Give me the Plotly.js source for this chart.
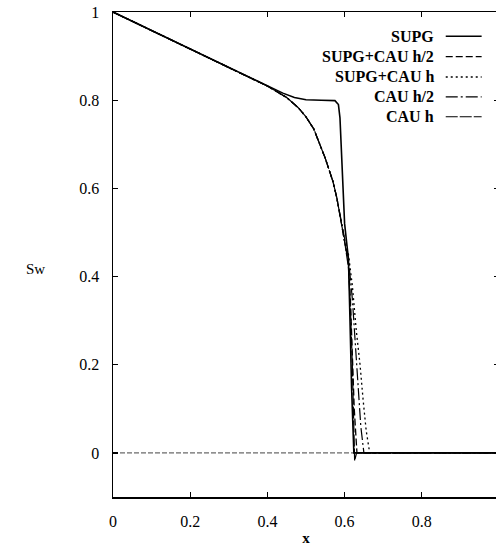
<!DOCTYPE html>
<html>
<head>
<meta charset="utf-8">
<script src="https://cdn.plot.ly/plotly-3.0.1.min.js"></script>
<style>
  html, body { margin: 0; padding: 0; overflow: hidden; background: #ffffff; }
  #chart { width: 502px; height: 546px; }
</style>
</head>
<body>
<div id="chart"></div>
<script>
// ---- data ----
var seriesNames = ["SUPG", "SUPG+CAU h/2", "SUPG+CAU h", "CAU h/2", "CAU h"];

var xSUPG = [0, 0.1, 0.2, 0.3, 0.4, 0.44, 0.47, 0.5, 0.54, 0.575, 0.584, 0.588, 0.591, 0.595, 0.6, 0.605, 0.61, 0.614, 0.618, 0.624, 0.7, 0.8, 0.9, 1.0];
var ySUPG = [1, 0.958, 0.916, 0.874, 0.832, 0.816, 0.806, 0.801, 0.800, 0.799, 0.79, 0.76, 0.70, 0.60, 0.52, 0.48, 0.44, 0.30, 0.15, 0.0, 0, 0, 0, 0];

var xSUPGCAUh2 = [0, 0.1, 0.2, 0.3, 0.4, 0.45, 0.48, 0.5, 0.52, 0.55, 0.57, 0.58, 0.59, 0.6, 0.61, 0.615, 0.62, 0.625, 0.632, 0.7, 0.8, 0.9, 1.0];
var ySUPGCAUh2 = [1, 0.958, 0.916, 0.874, 0.832, 0.806, 0.783, 0.762, 0.735, 0.668, 0.615, 0.578, 0.53, 0.48, 0.43, 0.35, 0.20, 0.10, 0.0, 0, 0, 0, 0];

var xSUPGCAUh = [0, 0.1, 0.2, 0.3, 0.4, 0.45, 0.48, 0.5, 0.52, 0.55, 0.57, 0.58, 0.59, 0.6, 0.61, 0.62, 0.63, 0.64, 0.648, 0.656, 0.665, 0.7, 0.8, 0.9, 1.0];
var ySUPGCAUh = [1, 0.958, 0.916, 0.874, 0.832, 0.806, 0.783, 0.762, 0.735, 0.668, 0.615, 0.578, 0.53, 0.48, 0.45, 0.38, 0.28, 0.20, 0.12, 0.05, 0.0, 0, 0, 0, 0];

var xCAUh2 = [0, 0.1, 0.2, 0.3, 0.4, 0.45, 0.48, 0.5, 0.52, 0.55, 0.57, 0.58, 0.59, 0.6, 0.61, 0.62, 0.63, 0.634, 0.642, 0.65, 0.7, 0.8, 0.9, 1.0];
var yCAUh2 = [1, 0.958, 0.916, 0.874, 0.832, 0.806, 0.783, 0.762, 0.735, 0.668, 0.615, 0.578, 0.53, 0.48, 0.44, 0.35, 0.22, 0.164, 0.06, 0.0, 0, 0, 0, 0];

var xCAUh = [0, 0.1, 0.2, 0.3, 0.4, 0.45, 0.48, 0.5, 0.52, 0.55, 0.57, 0.58, 0.59, 0.6, 0.61, 0.615, 0.62, 0.624, 0.626, 0.631, 0.64, 0.7, 0.8, 0.9, 1.0];
var yCAUh = [1, 0.958, 0.916, 0.874, 0.832, 0.806, 0.783, 0.762, 0.735, 0.668, 0.615, 0.578, 0.53, 0.48, 0.42, 0.33, 0.20, 0.07, -0.018, 0, 0, 0, 0, 0, 0];

var xTicks = [0, 0.2, 0.4, 0.6, 0.8];
var xTickLabels = ["0", "0.2", "0.4", "0.6", "0.8"];
var yTicks = [0, 0.2, 0.4, 0.6, 0.8, 1];
var yTickLabels = ["0", "0.2", "0.4", "0.6", "0.8", "1"];

// ---- styles ----
var dashes = ["solid", "7px,3px", "2px,3px", "12px,3px,2px,3px", "12px,2px"];
var widths = [1.6, 1.3, 1.3, 1.2, 1.2];
var xs = [xSUPG, xSUPGCAUh2, xSUPGCAUh, xCAUh2, xCAUh];
var ys = [ySUPG, ySUPGCAUh2, ySUPGCAUh, yCAUh2, yCAUh];

var traces = [];
for (var i = 0; i < seriesNames.length; i++) {
  traces.push({
    type: "scatter", mode: "lines", name: seriesNames[i],
    x: xs[i], y: ys[i],
    line: { color: "#000000", width: widths[i], dash: dashes[i] },
    showlegend: false
  });
}

var font = "Liberation Serif, Times New Roman, serif";

// manual legend (text right-aligned, sample line to the right)
var legY = [0.950, 0.908, 0.866, 0.825, 0.784];
var annotations = [];
var shapes = [];
// dashed zero axis (gnuplot-style)
shapes.push({
  type: "line", xref: "paper", yref: "y", x0: 0, x1: 1, y0: 0, y1: 0,
  line: { color: "#444444", width: 1, dash: "5px,2px" }, layer: "below"
});
for (var j = 0; j < seriesNames.length; j++) {
  annotations.push({
    xref: "paper", yref: "paper", x: 0.836, y: legY[j],
    xanchor: "right", yanchor: "middle", showarrow: false,
    text: seriesNames[j],
    font: { family: font, size: 16, color: "#000000", weight: "bold" }
  });
  shapes.push({
    type: "line", xref: "paper", yref: "paper",
    x0: 0.862, x1: 0.955, y0: legY[j], y1: legY[j],
    line: { color: "#000000", width: widths[j], dash: dashes[j] }
  });
}
annotations.push({
  xref: "paper", yref: "paper", x: -0.2, y: 0.47,
  xanchor: "center", yanchor: "middle", showarrow: false,
  text: "Sw", font: { family: font, size: 15, color: "#000000" }
});

var axisCommon = {
  showgrid: false, zeroline: false, showline: true, linecolor: "#000000", linewidth: 1.5,
  mirror: "ticks", ticks: "inside", ticklen: 5, tickwidth: 1.2, tickcolor: "#000000",
  tickfont: { family: font, size: 16, color: "#000000" }
};

var layout = {
  width: 502, height: 546,
  margin: { l: 113, r: 3, t: 12, b: 49 },
  paper_bgcolor: "#ffffff", plot_bgcolor: "#ffffff",
  showlegend: false,
  xaxis: Object.assign({}, axisCommon, {
    range: [0, 1], tickvals: xTicks, ticktext: xTickLabels, ticklabelstandoff: 9,
    title: { text: "x", font: { family: font, size: 15, color: "#000000", weight: "bold" }, standoff: 5 }
  }),
  yaxis: Object.assign({}, axisCommon, {
    range: [-0.1, 1.0], tickvals: yTicks, ticktext: yTickLabels, ticklabelstandoff: 9
  }),
  annotations: annotations,
  shapes: shapes
};

Plotly.newPlot("chart", traces, layout, { displayModeBar: false, staticPlot: true });
</script>
</body>
</html>
